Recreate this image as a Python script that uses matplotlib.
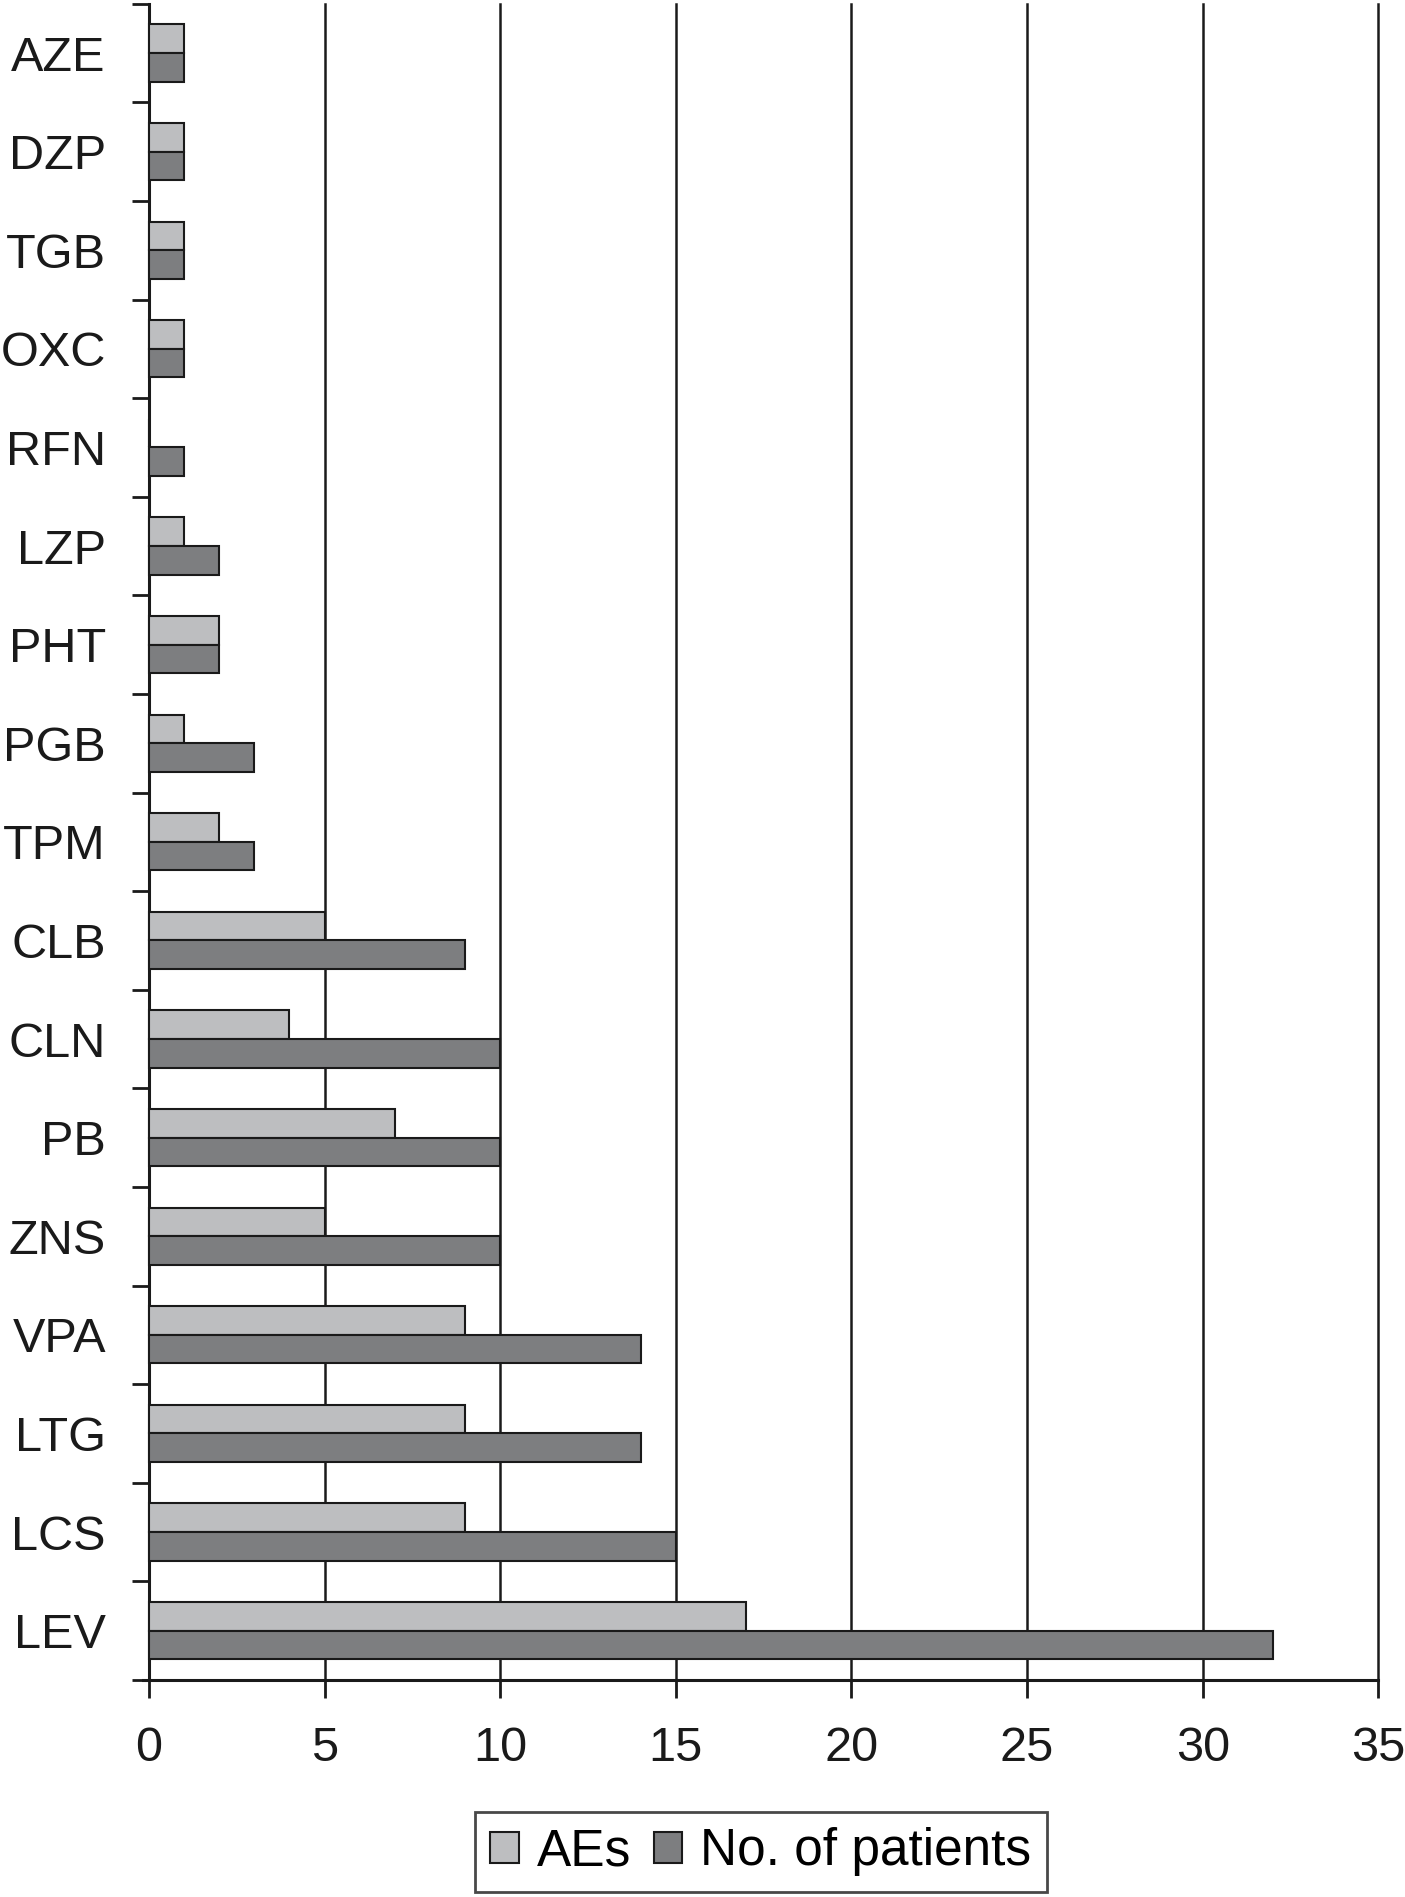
import numpy as np
import matplotlib.pyplot as plt
from matplotlib.ticker import FixedLocator

# drugs listed top to bottom as in the chart
drugs = ["AZE", "DZP", "TGB", "OXC", "RFN", "LZP", "PHT", "PGB", "TPM",
         "CLB", "CLN", "PB", "ZNS", "VPA", "LTG", "LCS", "LEV"]
aes = [1, 1, 1, 1, 0, 1, 2, 1, 2, 5, 4, 7, 5, 9, 9, 9, 17]
patients = [1, 1, 1, 1, 1, 2, 2, 3, 3, 9, 10, 10, 10, 14, 14, 15, 32]
x_ticks = [0, 5, 10, 15, 20, 25, 30, 35]

LIGHT = "#bdbec0"
DARK = "#7d7e80"
INK = "#1a1a1a"
plt.rcParams['font.family'] = ["Liberation Sans", "DejaVu Sans"]

fig = plt.figure(figsize=(14.05, 18.97), dpi=100)
ax = fig.add_axes([0.1015, 0.1144, 0.8795, 0.8836])

y = np.arange(len(drugs))
h = 0.29
ax.barh(y - h / 2, aes, height=h, color=LIGHT, edgecolor=INK,
        linewidth=1.5, zorder=3, label="AEs")
ax.barh(y + h / 2, patients, height=h, color=DARK, edgecolor=INK,
        linewidth=1.5, zorder=3, label="No. of patients")

ax.set_xlim(-0.18, 35)
ax.set_ylim(len(drugs) - 0.5, -0.5)
ax.spines['left'].set_position(('data', 0))
ax.spines['top'].set_visible(False)
ax.spines['right'].set_visible(False)
for s in ('left', 'bottom'):
    ax.spines[s].set_linewidth(2.2)
    ax.spines[s].set_color(INK)

# vertical grid lines
for v in x_ticks[1:]:
    ax.axvline(v, color=INK, linewidth=1.8, zorder=1, clip_on=False)

ax.set_xticks(x_ticks)
ax.set_xticklabels([str(v) for v in x_ticks])
ax.tick_params(axis='x', length=13, width=2, direction='out', pad=20,
               labelsize=35, colors=INK)

ax.set_yticks(y)
ax.set_yticklabels(drugs)
ax.yaxis.set_minor_locator(FixedLocator(np.arange(-0.5, len(drugs), 1.0)))
ax.tick_params(axis='y', which='major', length=0, pad=31, labelsize=35,
               colors=INK)
ax.tick_params(axis='y', which='minor', length=12, width=2, direction='out',
               color=INK)

leg = fig.legend(loc='lower center', bbox_to_anchor=(0.5415, 0.0), ncol=2,
                 fontsize=37, frameon=True, fancybox=False, handlelength=0.55,
                 handleheight=0.55, handletextpad=0.35, columnspacing=0.45,
                 borderpad=0.3, borderaxespad=0.1)
leg.get_frame().set_edgecolor(INK)
leg.get_frame().set_linewidth(2)

fig.savefig("out.png", dpi=100)
